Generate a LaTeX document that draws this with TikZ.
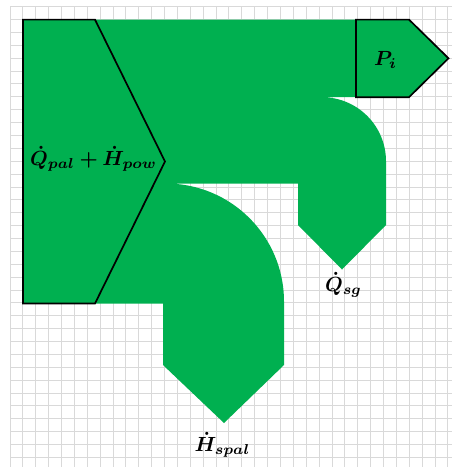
\documentclass[tikz,border=0pt]{standalone}
\usepackage{amsmath,bm}
\definecolor{flowgreen}{RGB}{0,176,80}
\definecolor{gridgray}{RGB}{217,217,217}
\tikzset{
  gridline/.style={draw=gridgray,line width=1pt},
  outline/.style={draw=black,line width=1.7pt,line join=miter},
  lbl/.style={inner sep=0pt,anchor=base,scale=2.05}
}
\begin{document}
\begin{tikzpicture}[x=1pt,y=-1pt]
\useasboundingbox (0,0) rectangle (452,467);
\fill[white] (0,0) rectangle (452,467);
% grid
\foreach \i in {0,...,34} \draw[gridline] ({10+12.88*\i},6.7) -- ({10+12.88*\i},467);
\foreach \j in {0,...,35} \draw[gridline] (10,{6.7+12.88*\j}) -- (452,{6.7+12.88*\j});
% green flow
\fill[flowgreen] (23,19.6) -- (409,19.6) -- (448.5,58.3) -- (409,97.2) -- (322,97.2)
  arc[start angle=-90,end angle=0,radius=64] -- (386,225) -- (342,269.5) -- (298,225)
  -- (298,183.5) -- (166,183.5)
  arc[start angle=-90,end angle=0,radius=118] -- (284,365) -- (224,423) -- (163,365)
  -- (163,303.5) -- (23,303.5) -- cycle;
% outlines
\draw[outline] (23,19.6) -- (95,19.6) -- (165,161.5) -- (95,303.5) -- (23,303.5) -- cycle;
\draw[outline] (356,19.6) -- (409,19.6) -- (448.5,58.3) -- (409,97.2) -- (356,97.2) -- cycle;
% labels
\node[lbl] (qpal) at (93.5,165) {$\bm{\dot{Q}_{pal}+\dot{H}_{pow}}$};
\node[lbl] (pi) at (385.5,65) {$\bm{P_{i}}$};
\node[lbl] (qsg) at (343.5,291.7) {$\bm{\dot{Q}_{sg}}$};
\node[lbl] (hspal) at (222.5,451.7) {$\bm{\dot{H}_{spal}}$};
\end{tikzpicture}
\end{document}
